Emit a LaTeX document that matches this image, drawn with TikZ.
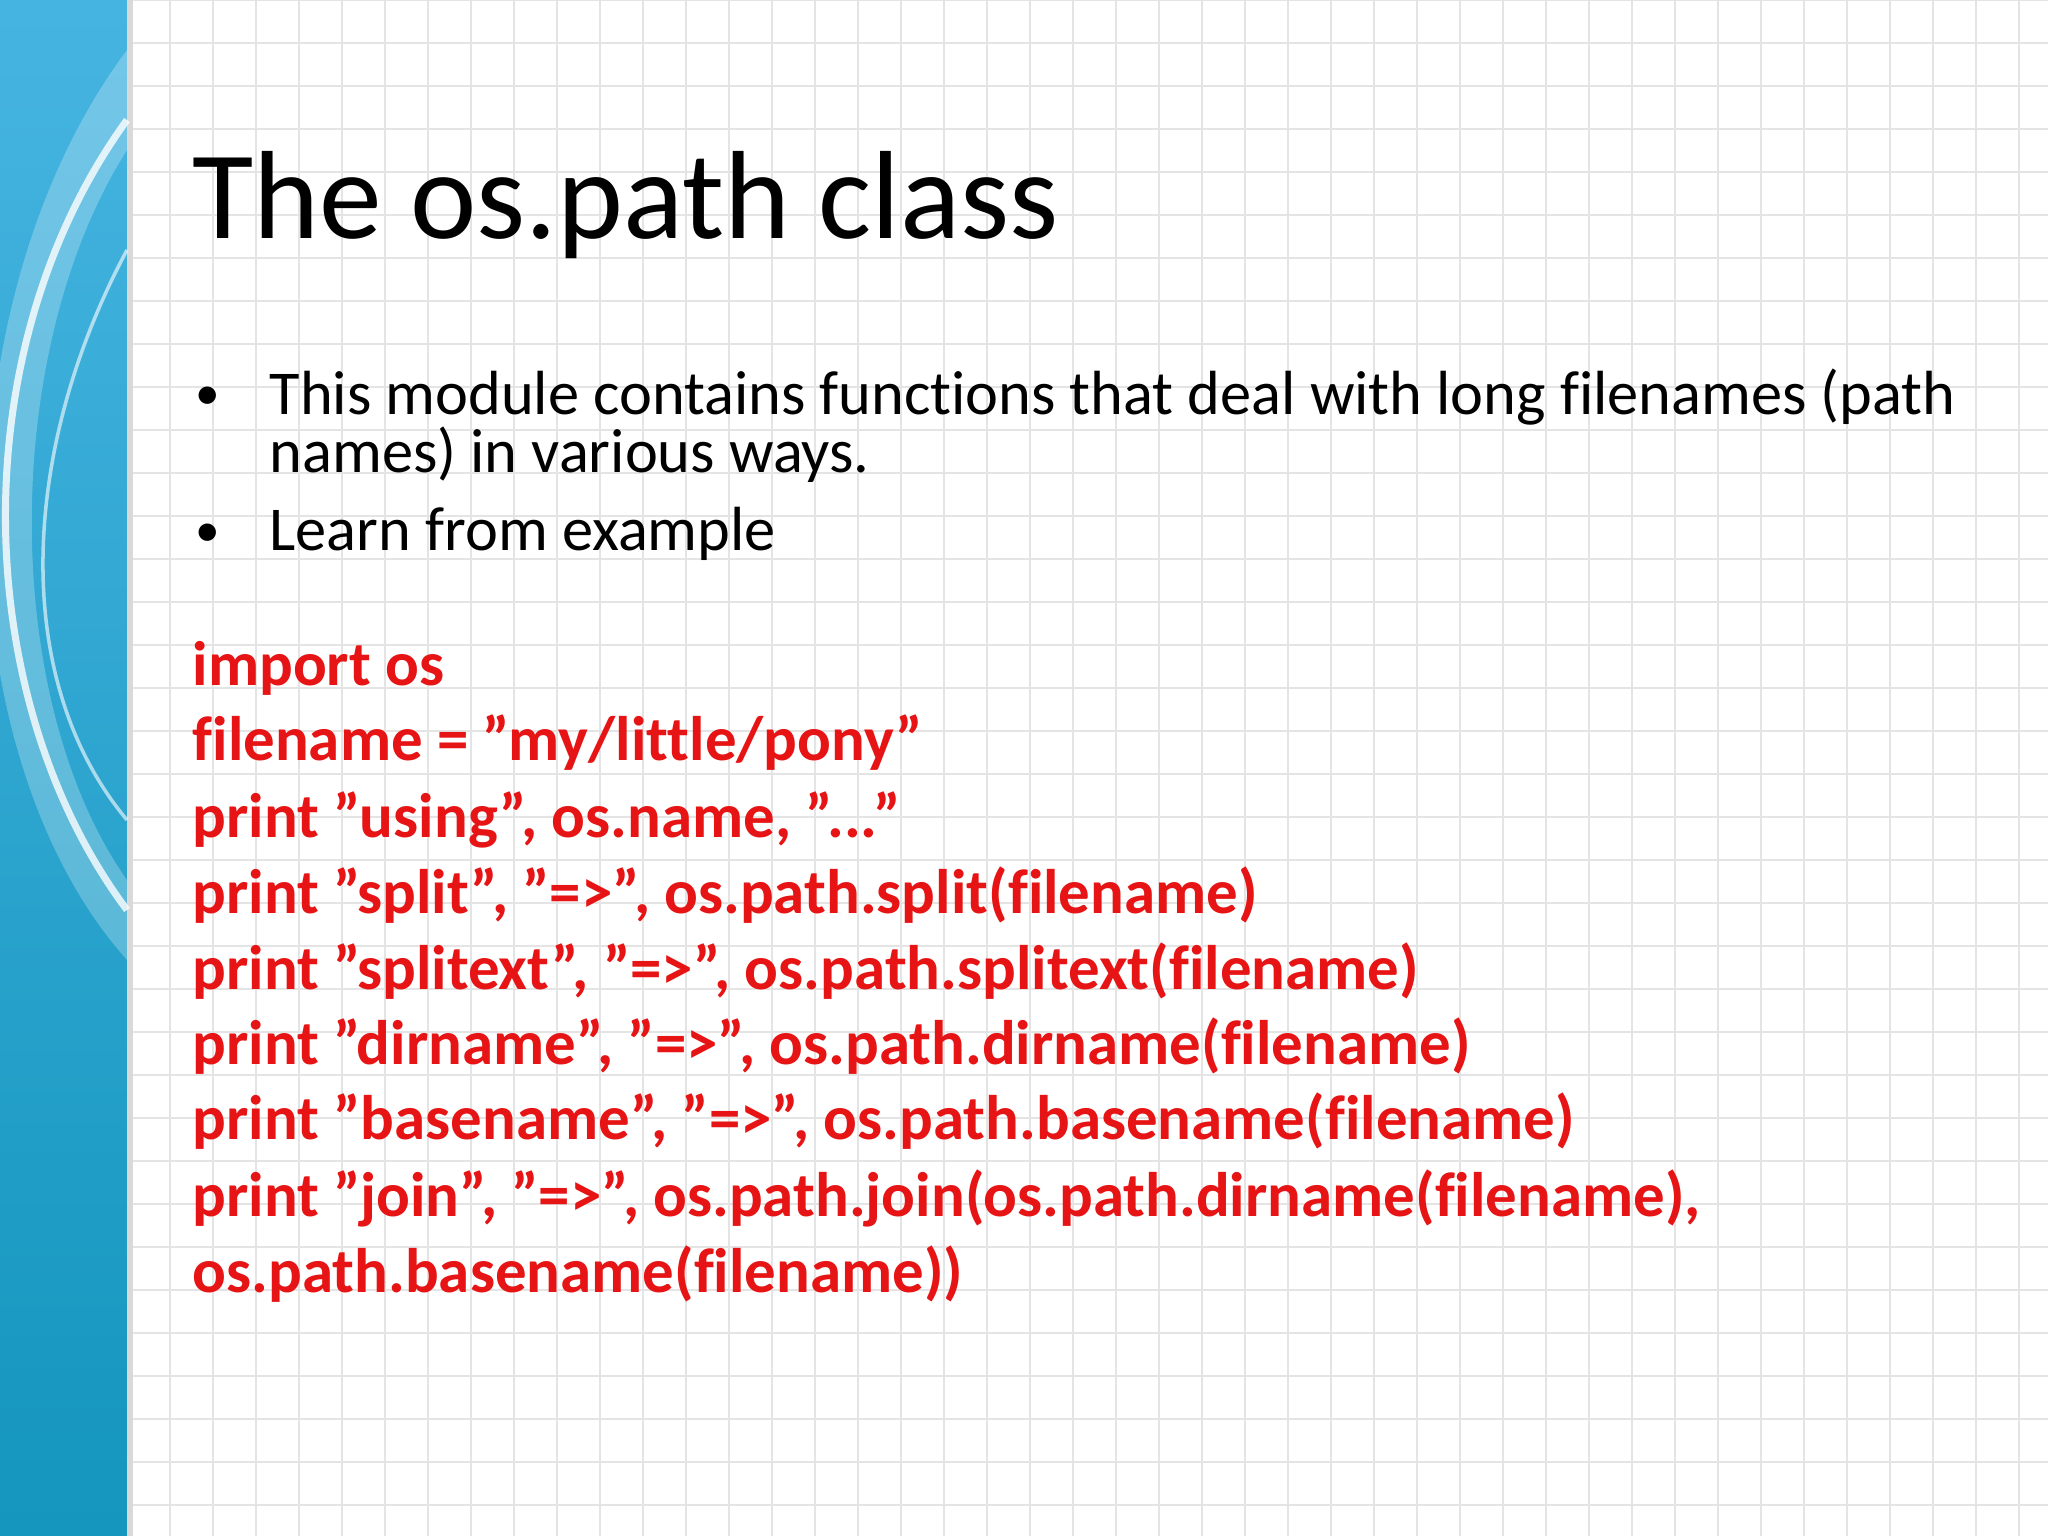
\documentclass[tikz,border=0pt]{standalone}
\usepackage{fontspec}
\setmainfont[Ligatures={NoCommon}]{Carlito}
\definecolor{codered}{RGB}{230,20,20}
\definecolor{gridc}{RGB}{228,228,228}
\definecolor{bandA}{RGB}{70,180,225}
\definecolor{bandB}{RGB}{20,150,190}
\newcommand{\q}{\symbol{34}}
\begin{document}
\begin{tikzpicture}[x=1cm,y=-1cm,
  title/.style={anchor=base west,inner sep=0,font=\fontsize{35.7}{38}\selectfont},
  body/.style={anchor=base west,inner sep=0,font=\fontsize{17.75}{20}\selectfont},
  code/.style={anchor=base west,inner sep=0,text=codered,font=\bfseries\fontsize{17.9}{20}\selectfont}]
\useasboundingbox (0,0) rectangle (20.48,15.36);
\fill[white] (0,0) rectangle (20.48,15.36);
\foreach \i in {0,...,44} {\draw[gridc,line width=0.6pt] (1.27+\i*0.43,0) -- (1.27+\i*0.43,15.36);}
\foreach \j in {0,...,36} {\draw[gridc,line width=0.6pt] (1.27,\j*0.43) -- (20.48,\j*0.43);}
\shade[top color=bandA,bottom color=bandB] (0,0) rectangle (1.27,15.36);
\fill[black!15] (1.27,0) rectangle (1.33,15.36);
\draw[white,line width=2pt,opacity=0.8] (1.27,1.2) .. controls (-0.4,3.5) and (-0.3,7) .. (1.27,9.1);
\draw[white,line width=1pt,opacity=0.6] (1.27,2.5) .. controls (0.2,4.5) and (0.1,6.8) .. (1.27,8.2);
\fill[white,opacity=0.25] (1.27,0.5) .. controls (-0.6,3) and (-0.6,7.5) .. (1.27,9.6) -- (1.27,8.8) .. controls (0,7) and (0,3.5) .. (1.27,1.5) -- cycle;
\node[title] (t) at (1.92,2.39) {The os.path class};
\node[body,font=\fontsize{14}{16}\selectfont] (b1) at (1.95,4.1) {•};
\node[body] (l1) at (2.69,4.15) {This module contains functions that deal with long filenames (path};
\node[body] (l2) at (2.69,4.73) {names) in various ways.};
\node[body,font=\fontsize{14}{16}\selectfont] (b2) at (1.95,5.46) {•};
\node[body] (l3) at (2.69,5.51) {Learn from example};
\node[code] (c1) at (1.92,6.86) {import os};
\node[code] (c2) at (1.92,7.61) {filename = \q my/little/pony\q};
\node[code] (c3) at (1.92,8.37) {print \q using\q, os.name, \q...\q};
\node[code] (c4) at (1.92,9.13) {print \q split\q, \q=>\q, os.path.split(filename)};
\node[code] (c5) at (1.92,9.89) {print \q splitext\q, \q=>\q, os.path.splitext(filename)};
\node[code] (c6) at (1.92,10.64) {print \q dirname\q, \q=>\q, os.path.dirname(filename)};
\node[code] (c7) at (1.92,11.40) {print \q basename\q, \q=>\q, os.path.basename(filename)};
\node[code] (c8) at (1.92,12.16) {print \q join\q, \q=>\q, os.path.join(os.path.dirname(filename),};
\node[code] (c9) at (1.92,12.92) {os.path.basename(filename))};
\end{tikzpicture}
\end{document}
